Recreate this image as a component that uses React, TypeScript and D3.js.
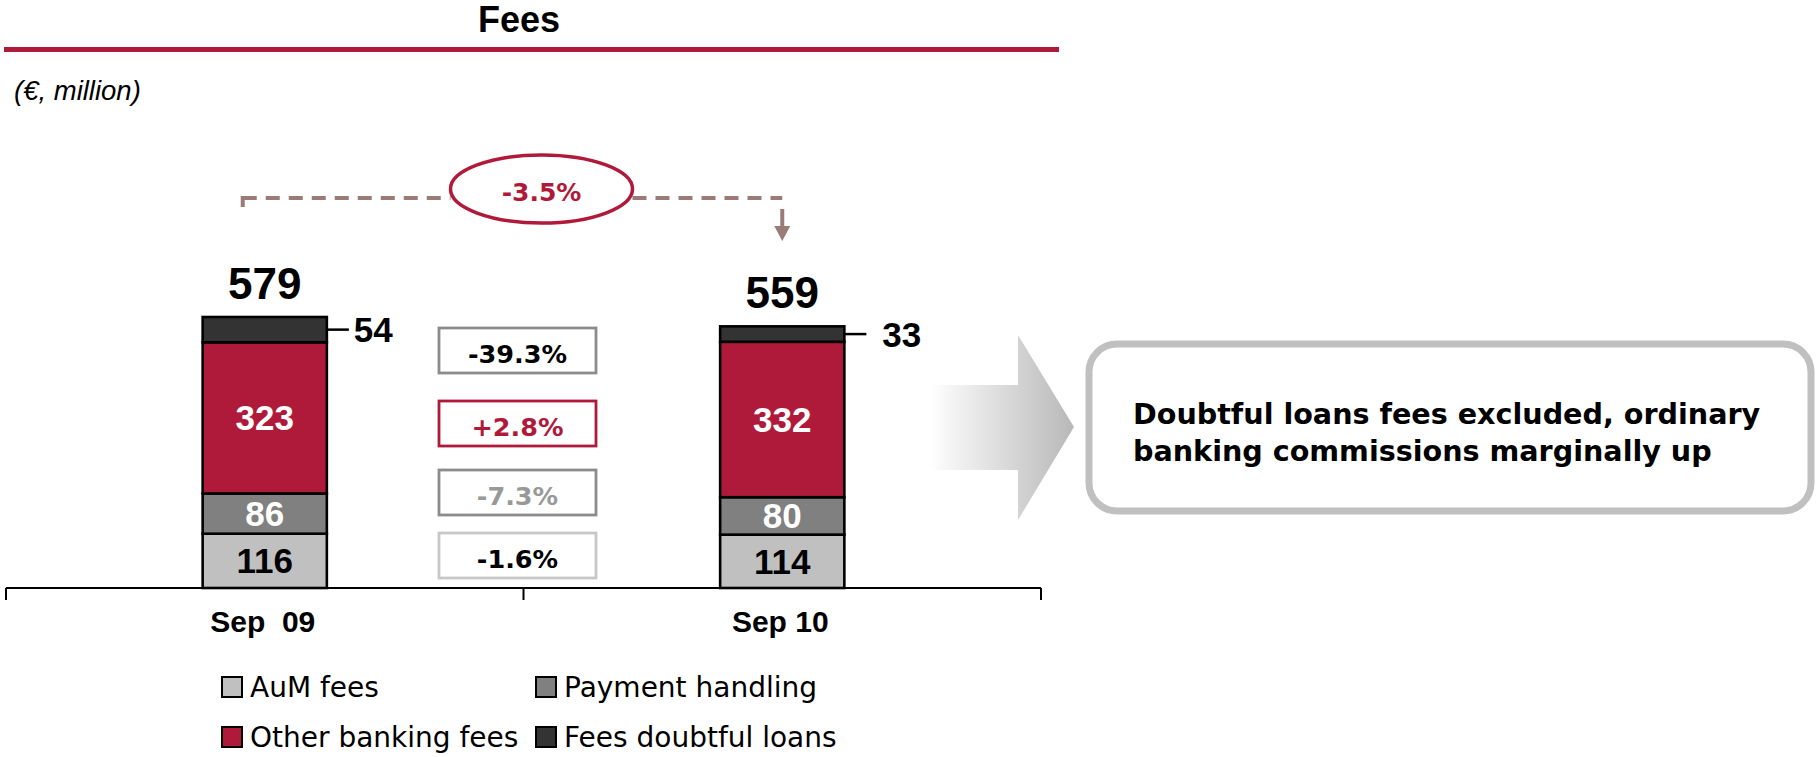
import React from "react";
import * as d3 from "d3";

const categories = ["Sep  09", "Sep 10"];
const seriesKeys = ["aum", "payment", "other", "doubtful"];
const seriesNames = ["AuM fees", "Payment handling", "Other banking fees", "Fees doubtful loans"];
const aumFees = [116, 114];
const paymentHandling = [86, 80];
const otherBanking = [323, 332];
const doubtfulLoans = [54, 33];
const totals = [579, 559];
const changeLabels = ["-39.3%", "+2.8%", "-7.3%", "-1.6%"];
const totalChange = "-3.5%";
const subtitle = "(€, million)";
const title = "Fees";
const noteLines = ["Doubtful loans fees excluded, ordinary", "banking commissions marginally up"];

const colors: Record<string, string> = {
  aum: "#c0c0c0",
  payment: "#808080",
  other: "#b01a3a",
  doubtful: "#333333",
};
const labelColors: Record<string, string> = {
  aum: "#000",
  payment: "#fff",
  other: "#fff",
  doubtful: "#000",
};

const CRIMSON = "#b01a3a";
const NUM_FONT = "'Liberation Sans', Arial, sans-serif";
const DV_FONT = "'DejaVu Sans', Verdana, sans-serif";

export default function App() {
  const W = 1820;
  const H = 757;
  const baseY = 588;

  const rows = categories.map((c, i) => ({
    cat: c,
    aum: aumFees[i],
    payment: paymentHandling[i],
    other: otherBanking[i],
    doubtful: doubtfulLoans[i],
  }));
  const stack = d3.stack<any>().keys(seriesKeys);
  const stacked = stack(rows);

  const x = d3.scaleBand<string>().domain(categories).range([6, 1041]).paddingInner(0).paddingOuter(0);
  const y = d3.scaleLinear().domain([0, 579]).range([baseY, 317]);
  const barW = x.bandwidth() * 0.24;
  const cx = (c: string) => (x(c) as number) + x.bandwidth() / 2;

  // change boxes layout
  const boxX = (cx(categories[0]) + cx(categories[1])) / 2 - 6;
  const boxW = 157;
  const boxH = 45;
  const boxTops = [328, 401, 470, 533];
  const boxStroke = ["#8c8c8c", CRIMSON, "#8c8c8c", "#c8c8c8"];
  const boxText = ["#000", CRIMSON, "#999999", "#000"];

  // connector
  const connY = 198;
  const leftX = cx(categories[0]) - 22;
  const rightX = cx(categories[1]);
  const ellCx = boxX + 24;
  const ellCy = 189;
  const ellRx = 91;
  const ellRy = 34;

  const sideGaps = [5, 16];

  const ticks = [6, x(categories[1]) as number, 1041];

  return (
    <svg width={W} height={H} style={{ position: "absolute", left: 0, top: 0, display: "block", background: "#fff" }}>
      <defs>
        <linearGradient id="arrowGrad" x1="930" y1="0" x2="1074" y2="0" gradientUnits="userSpaceOnUse">
          <stop offset="0" stopColor="#ffffff" />
          <stop offset="0.6" stopColor="#d4d4d4" />
          <stop offset="1" stopColor="#b8b8b8" />
        </linearGradient>
      </defs>

      {/* Title */}
      <text x={519} y={32} textAnchor="middle" fontFamily={NUM_FONT} fontWeight="bold" fontSize={36} fill="#000">
        {title}
      </text>
      <line x1={4} x2={1059} y1={49.5} y2={49.5} stroke={CRIMSON} strokeWidth={5} />
      <text x={14} y={100} fontFamily={NUM_FONT} fontStyle="italic" fontSize={27.5} fill="#000">
        {subtitle}
      </text>

      {/* Connector */}
      <g stroke="#9b7b78" strokeWidth={4} fill="none">
        <line x1={leftX} x2={leftX} y1={connY - 2} y2={connY + 9} />
        <line x1={leftX} x2={ellCx - ellRx} y1={connY} y2={connY} strokeDasharray="14 9" />
        <line x1={ellCx + ellRx} x2={rightX} y1={connY} y2={connY} strokeDasharray="14 9" />
        <line x1={rightX} x2={rightX} y1={209} y2={228} />
      </g>
      <path d={`M${rightX - 8},226 L${rightX + 8},226 L${rightX},241 Z`} fill="#9b7b78" />
      <ellipse cx={ellCx} cy={ellCy} rx={ellRx} ry={ellRy} fill="#fff" stroke={CRIMSON} strokeWidth={3.5} />
      <text x={ellCx} y={201} textAnchor="middle" fontFamily={DV_FONT} fontWeight="bold" fontSize={25} fill={CRIMSON}>
        {totalChange}
      </text>

      {/* Bars */}
      {stacked.map((layer) => (
        <g key={layer.key}>
          {layer.map((d, i) => {
            const c = categories[i];
            const x0 = cx(c) - barW / 2;
            const y0 = y(d[1]);
            const y1 = y(d[0]);
            return (
              <rect key={i} x={x0} y={y0} width={barW} height={y1 - y0} fill={colors[layer.key]} stroke="#000" strokeWidth={2.6} />
            );
          })}
        </g>
      ))}

      {/* Inner labels */}
      {stacked
        .filter((l) => l.key !== "doubtful")
        .map((layer) => (
          <g key={"lab" + layer.key}>
            {layer.map((d, i) => {
              const c = categories[i];
              const ym = (y(d[0]) + y(d[1])) / 2;
              return (
                <text
                  key={i}
                  x={cx(c)}
                  y={ym + 12.5}
                  textAnchor="middle"
                  fontFamily={NUM_FONT}
                  fontWeight="bold"
                  fontSize={35}
                  fill={labelColors[layer.key]}
                >
                  {d[1] - d[0]}
                </text>
              );
            })}
          </g>
        ))}

      {/* Side labels for doubtful loans */}
      {stacked
        .filter((l) => l.key === "doubtful")
        .map((layer) => (
          <g key="side">
            {layer.map((d, i) => {
              const c = categories[i];
              const ym = (y(d[0]) + y(d[1])) / 2;
              const xr = cx(c) + barW / 2;
              return (
                <g key={i}>
                  <line x1={xr} x2={xr + 22} y1={ym} y2={ym} stroke="#000" strokeWidth={2.5} />
                  <text
                    x={xr + 22 + sideGaps[i]}
                    y={ym + 12.5}
                    fontFamily={NUM_FONT}
                    fontWeight="bold"
                    fontSize={35}
                    fill="#000"
                  >
                    {d[1] - d[0]}
                  </text>
                </g>
              );
            })}
          </g>
        ))}

      {/* Totals */}
      {categories.map((c, i) => (
        <text
          key={"tot" + i}
          x={cx(c)}
          y={y(totals[i]) - 18}
          textAnchor="middle"
          fontFamily={NUM_FONT}
          fontWeight="bold"
          fontSize={44}
          fill="#000"
        >
          {totals[i]}
        </text>
      ))}

      {/* Change boxes */}
      {changeLabels.map((lab, i) => (
        <g key={"box" + i}>
          <rect
            x={boxX - boxW / 2}
            y={boxTops[i]}
            width={boxW}
            height={boxH}
            fill="#fff"
            stroke={boxStroke[i]}
            strokeWidth={2.8}
          />
          <text
            x={boxX}
            y={boxTops[i] + boxH / 2 + 12}
            textAnchor="middle"
            fontFamily={DV_FONT}
            fontWeight="bold"
            fontSize={25.5}
            fill={boxText[i]}
          >
            {lab}
          </text>
        </g>
      ))}

      {/* Axis */}
      <line x1={6} x2={1041} y1={baseY} y2={baseY} stroke="#000" strokeWidth={2} />
      {ticks.map((t, i) => (
        <line key={"t" + i} x1={t} x2={t} y1={baseY} y2={baseY + 12} stroke="#000" strokeWidth={2} />
      ))}
      {categories.map((c, i) => (
        <text
          key={"cat" + i}
          x={cx(c) - 2}
          y={632}
          textAnchor="middle"
          fontFamily={NUM_FONT}
          fontWeight="bold"
          fontSize={30}
          fill="#000"
          style={{ whiteSpace: "pre" }}
        >
          {c}
        </text>
      ))}

      {/* Legend */}
      {seriesKeys.map((k, i) => {
        const col = i % 2;
        const row = Math.floor(i / 2);
        const lx = col === 0 ? 222 : 536;
        const ly = row === 0 ? 677 : 727;
        return (
          <g key={"leg" + k}>
            <rect x={lx} y={ly} width={20} height={20} fill={colors[k]} stroke="#000" strokeWidth={2} />
            <text x={lx + 28} y={ly + 20} fontFamily={DV_FONT} fontSize={28} fill="#000">
              {seriesNames[i]}
            </text>
          </g>
        );
      })}

      {/* Big arrow */}
      <path d="M930,385 L1018,385 L1018,335 L1074,427 L1018,520 L1018,470 L930,470 Z" fill="url(#arrowGrad)" />

      {/* Note box */}
      <rect x={1089} y={344} width={722} height={167} rx={28} ry={28} fill="#fff" stroke="#c0c0c0" strokeWidth={7} />
      {noteLines.map((l, i) => (
        <text key={"n" + i} x={1133} y={424 + i * 37} fontFamily={DV_FONT} fontWeight="bold" fontSize={28.6} fill="#000">
          {l}
        </text>
      ))}
    </svg>
  );
}
